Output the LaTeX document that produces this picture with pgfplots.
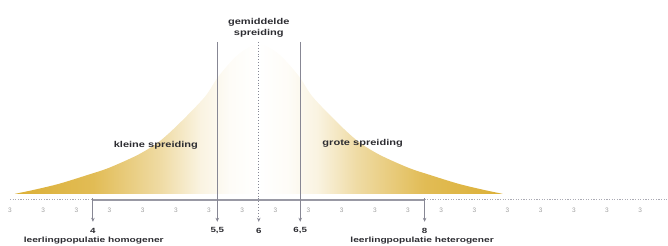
\documentclass[border=0pt]{standalone}
\usepackage{pgfplots}
\pgfplotsset{compat=1.18}
\usetikzlibrary{arrows.meta}
\usepackage{fontspec}
\setmainfont{Liberation Sans}
\usepackage{graphicx}
\definecolor{gold}{RGB}{220,176,55}
\definecolor{txt}{RGB}{45,45,50}
\definecolor{ln}{RGB}{135,135,148}
\pgfdeclarehorizontalshading{bell}{100bp}{color(0bp)=(gold); color(25bp)=(gold); color(33bp)=(gold!85!white); color(40bp)=(gold!45!white); color(44bp)=(gold!15!white); color(47bp)=(gold!4!white); color(50bp)=(white); color(53bp)=(gold!4!white); color(56bp)=(gold!15!white); color(60bp)=(gold!45!white); color(67bp)=(gold!85!white); color(75bp)=(gold); color(100bp)=(gold)}
\newcommand{\wide}[1]{\scalebox{1.3}[1]{#1}}
\begin{document}
\begin{tikzpicture}
\begin{axis}[width=668pt,height=246pt,scale only axis,
  xmin=2.8795,xmax=10.928,ymin=0,ymax=246,
  hide axis,clip=false]
\path (rel axis cs:0,0) rectangle (rel axis cs:1,1);
% distribution
\addplot[draw=none,shade,shading=bell,smooth] coordinates {
(3.060,52) (3.289,56) (3.590,62) (3.940,71) (4.193,78) (4.542,91) (4.795,104) (5.036,122) (5.349,149) (5.518,170) (5.759,192) (6.000,202)
(6.241,192) (6.482,170) (6.651,149) (6.964,122) (7.205,104) (7.458,91) (7.807,78) (8.060,71) (8.410,62) (8.711,56) (8.940,52)} -- cycle;
% axis line
\addplot[ln!85,line width=1.8pt] coordinates {(4,46) (8,46)};
\addplot[ln!70,line width=1.2pt,dash pattern=on 1.2pt off 1.4pt] coordinates {(3.0,46) (4,46)};
\addplot[ln!70,line width=1.2pt,dash pattern=on 1.2pt off 1.4pt] coordinates {(8,46) (10.928,46)};
% vertical lines
\addplot[ln,line width=0.9pt,-{Stealth[length=4pt,width=3.5pt]}] coordinates {(5.5,204) (5.5,24)};
\addplot[ln,line width=0.9pt,-{Stealth[length=4pt,width=3.5pt]}] coordinates {(6.5,204) (6.5,24)};
\addplot[ln,line width=0.9pt,dotted,-{Stealth[length=4pt,width=3.5pt]}] coordinates {(6,204) (6,24)};
\addplot[ln,line width=0.9pt,-{Stealth[length=4pt,width=3.5pt]}] coordinates {(4,48) (4,24)};
\addplot[ln,line width=0.9pt,-{Stealth[length=4pt,width=3.5pt]}] coordinates {(8,48) (8,24)};
% tick labels
\pgfplotsinvokeforeach{0,...,19}{
  \node[font=\fontsize{6.5}{6.5}\selectfont,text=gray!75,inner sep=0pt] at (axis cs:{3+0.4*#1},36) {3};
}
% texts
\node[font=\bfseries\fontsize{8.5}{11}\selectfont,text=txt,align=center] at (axis cs:6,218.5) {\wide{gemiddelde}\\\wide{spreiding}};
\node[font=\bfseries\fontsize{8.5}{8}\selectfont,text=txt] at (axis cs:4.759,101) {\wide{kleine spreiding}};
\node[font=\bfseries\fontsize{8.5}{8}\selectfont,text=txt] at (axis cs:7.253,103) {\wide{grote spreiding}};
\node[font=\bfseries\fontsize{7.5}{8}\selectfont,text=txt,inner sep=0pt] at (axis cs:5.5,15) {\wide{5,5}};
\node[font=\bfseries\fontsize{7.5}{8}\selectfont,text=txt,inner sep=0pt] at (axis cs:6,15) {\wide{6}};
\node[font=\bfseries\fontsize{7.5}{8}\selectfont,text=txt,inner sep=0pt] at (axis cs:6.5,15) {\wide{6,5}};
\node[font=\bfseries\fontsize{7.5}{8}\selectfont,text=txt,inner sep=0pt] at (axis cs:4,15) {\wide{4}};
\node[font=\bfseries\fontsize{7.5}{8}\selectfont,text=txt,inner sep=0pt] at (axis cs:8,15) {\wide{8}};
\node[font=\bfseries\fontsize{7.5}{8}\selectfont,text=txt,inner sep=0pt] at (axis cs:4.01,5) {\scalebox{1.36}[1]{leerlingpopulatie homogener}};
\node[font=\bfseries\fontsize{7.5}{8}\selectfont,text=txt,inner sep=0pt] at (axis cs:7.97,5) {\scalebox{1.36}[1]{leerlingpopulatie heterogener}};
\end{axis}
\end{tikzpicture}
\end{document}
